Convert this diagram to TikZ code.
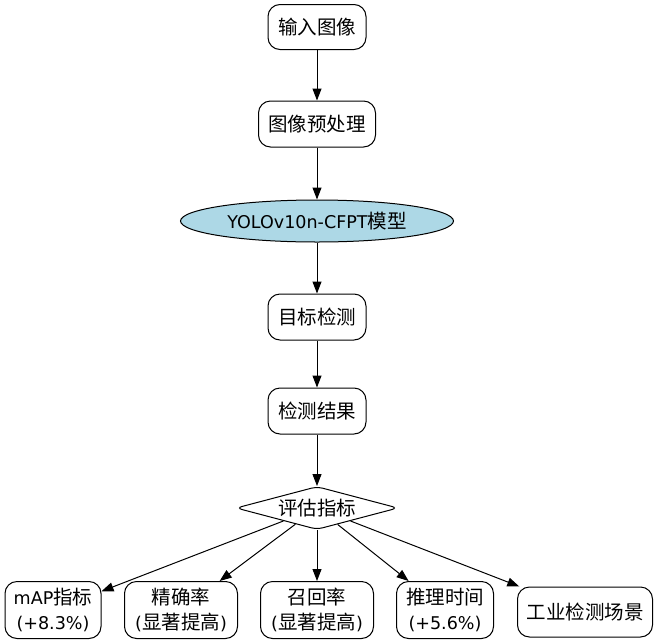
\documentclass[tikz,border=0pt]{standalone}
\usepackage{fontspec}
\setmainfont{Noto Sans CJK SC}
\newfontfamily\lfont{DejaVu Sans}[Scale=0.9]
\usetikzlibrary{arrows.meta,shapes.geometric}

\definecolor{lightblue}{RGB}{173,216,230}
\tikzset{
  base/.style={font=\fontsize{19.5}{25}\selectfont, inner sep=0pt, align=center, line width=1pt, draw=black},
  stepbox/.style={base, rectangle, rounded corners=12pt},
  modelnode/.style={base, ellipse, fill=lightblue},
  evalnode/.style={base, diamond, aspect=3.8, rounded corners=6pt, minimum width=162pt, minimum height=43pt},
  arr/.style={-{Triangle[length=12pt,width=9pt]}, line width=1pt},
}

\begin{document}
\begin{tikzpicture}[x=1pt, y=-1pt]
  \useasboundingbox[fill=white] (0,0) rectangle (659,643);

  % main pipeline
  \node[stepbox, minimum width=98pt, minimum height=45pt] (input) at (317,27) {输入图像};
  \node[stepbox, minimum width=117pt, minimum height=46pt] (prep) at (317,124) {图像预处理};
  \node[modelnode, minimum width=273pt, minimum height=42pt] (model) at (317,221) {{\lfont YOLOv10n-CFPT}模型};
  \node[stepbox, minimum width=98pt, minimum height=46pt] (detect) at (317,317) {目标检测};
  \node[stepbox, minimum width=98pt, minimum height=46pt] (result) at (317,411) {检测结果};
  \node[evalnode] (eval) at (317,508) {评估指标};

  % evaluation outcomes
  \node[stepbox, minimum width=96pt, minimum height=57pt] (map) at (53,610) {{\lfont mAP}指标\\{\lfont(+8.3\%)}};
  \node[stepbox, minimum width=113pt, minimum height=57pt] (prec) at (181,610) {精确率\\{\lfont(}显著提高{\lfont)}};
  \node[stepbox, minimum width=113pt, minimum height=57pt] (recall) at (317,610) {召回率\\{\lfont(}显著提高{\lfont)}};
  \node[stepbox, minimum width=97pt, minimum height=57pt] (time) at (445,610) {推理时间\\{\lfont(+5.6\%)}};
  \node[stepbox, minimum width=135pt, minimum height=50pt] (scene) at (585,612) {工业检测场景};

  % connectors
  \draw[arr] (input) -- (prep);
  \draw[arr] (prep) -- (model);
  \draw[arr] (model) -- (detect);
  \draw[arr] (detect) -- (result);
  \draw[arr] (result) -- (eval);
  \draw[arr] (eval) -- (map);
  \draw[arr] (eval) -- (prec);
  \draw[arr] (eval) -- (recall);
  \draw[arr] (eval) -- (time);
  \draw[arr] (eval) -- (scene);
\end{tikzpicture}
\end{document}
